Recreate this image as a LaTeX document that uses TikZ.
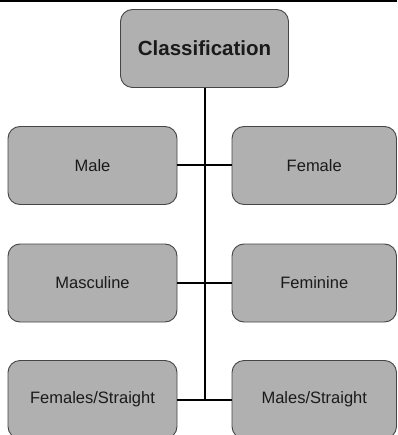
\documentclass[tikz,border=0pt]{standalone}
\usepackage{fontspec}
\setmainfont{Liberation Sans}
\definecolor{boxfill}{HTML}{B0B0B0}
\definecolor{boxline}{HTML}{454545}
\definecolor{txt}{HTML}{1A1A1A}
\begin{document}
\begin{tikzpicture}[x=1pt,y=-1pt,
  catbox/.style={draw=boxline, line width=0.9pt, fill=boxfill, rounded corners=12pt,
    minimum width=169pt, minimum height=78pt, inner sep=0pt, text=txt,
    font=\fontsize{16.5}{18}\selectfont},
  rootbox/.style={catbox, minimum width=168pt, font=\fontsize{20.5}{23}\bfseries\selectfont},
  link/.style={draw=black, line width=2pt}]
\useasboundingbox (0,0) rectangle (397,435);
\begin{scope}
\clip (0,0) rectangle (397,435);
\fill[black] (0,0) rectangle (397,2.2);
\node[rootbox] (cls) at (204.5,48.5) {Classification};
\node[catbox] (male) at (92.5,165.5) {Male};
\node[catbox, minimum width=164.5pt] (female) at (314.25,165.5) {Female};
\node[catbox] (masc) at (92.5,283) {Masculine};
\node[catbox, minimum width=164.5pt] (fem) at (314.25,283) {Feminine};
\node[catbox] (fstr) at (92.5,399.5) {Females/Straight};
\node[catbox, minimum width=164.5pt] (mstr) at (314.25,399.5) {Males/Straight};
\coordinate (bend) at (cls.south |- fstr.east);
\draw[link] (cls.south) -- (bend);
\draw[link] (male.east) -- (female.west);
\draw[link] (masc.east) -- (fem.west);
\draw[link] (fstr.east) -- (mstr.west);
\end{scope}
\end{tikzpicture}
\end{document}
